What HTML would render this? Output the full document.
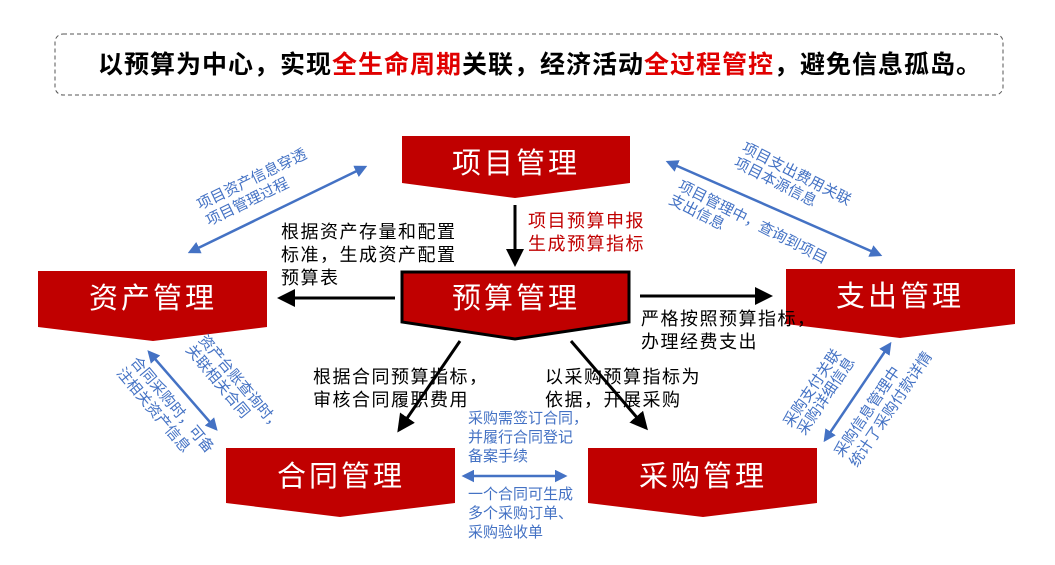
<!DOCTYPE html>
<html><head><meta charset="utf-8"><style>
html,body{margin:0;padding:0;background:#fff;}
svg{display:block;}
text{font-family:"Liberation Sans","Noto Sans CJK SC",sans-serif;}
</style></head><body>
<svg width="1055" height="565" viewBox="0 0 1055 565" xmlns="http://www.w3.org/2000/svg">
<defs>
<marker id="bk" markerWidth="6" markerHeight="6" refX="5" refY="3" orient="auto" markerUnits="strokeWidth"><path d="M0,0 L6,3 L0,6 z" fill="#000"/></marker>
<marker id="bl" markerWidth="5" markerHeight="5" refX="4" refY="2.5" orient="auto-start-reverse" markerUnits="strokeWidth"><path d="M0,0 L5,2.5 L0,5 z" fill="#4472c4"/></marker>
</defs>
<rect x="55" y="34" width="948" height="61" rx="8" fill="none" stroke="#555" stroke-dasharray="4,3" stroke-width="1"/>
<text x="540" y="73" font-size="25" font-weight="bold" text-anchor="middle" letter-spacing="1" fill="#000">以预算为中心，实现<tspan fill="#e00000">全生命周期</tspan>关联，经济活动<tspan fill="#e00000">全过程管控</tspan>，避免信息孤岛。</text>

<g fill="#c00000">
<polygon points="402,136 630,136 630,183 515,198 402,183"/>
<polygon points="38,271 267,271 267,327 153,341 38,327"/>
<polygon points="786,269 1015,269 1015,324 900,338 786,324"/>
<polygon points="226,448 455,448 455,503 340,517 226,503"/>
<polygon points="588,448 817,448 817,503 703,517 588,503"/>
</g>
<polygon points="402,272 629,272 629,322 515,339 402,322" fill="#c00000" stroke="#000" stroke-width="3"/>
<g fill="#fff" font-size="29" text-anchor="middle" letter-spacing="3">
<text x="516" y="173">项目管理</text>
<text x="153" y="308">资产管理</text>
<text x="516" y="308">预算管理</text>
<text x="900" y="306">支出管理</text>
<text x="341" y="486">合同管理</text>
<text x="703" y="486">采购管理</text>
</g>

<g stroke="#000" stroke-width="3" marker-end="url(#bk)">
<line x1="515" y1="205" x2="515" y2="264"/>
<line x1="395" y1="298" x2="280" y2="298"/>
<line x1="640" y1="296" x2="770" y2="296"/>
<line x1="460" y1="341" x2="399" y2="430"/>
<line x1="571" y1="341" x2="646" y2="428"/>
</g>

<g font-size="18" fill="#000" letter-spacing="1.5">
<text x="281" y="238">根据资产存量和配置</text>
<text x="281" y="261">标准，生成资产配置</text>
<text x="281" y="284">预算表</text>
<text x="641" y="325">严格按照预算指标，</text>
<text x="641" y="348">办理经费支出</text>
<text x="313" y="383">根据合同预算指标，</text>
<text x="313" y="406">审核合同履职费用</text>
<text x="545" y="383">以采购预算指标为</text>
<text x="545" y="406">依据，开展采购</text>
</g>
<g font-size="18" fill="#c00000" letter-spacing="1.5">
<text x="528" y="227">项目预算申报</text>
<text x="528" y="250">生成预算指标</text>
</g>

<g stroke="#4472c4" stroke-width="2.5" marker-start="url(#bl)" marker-end="url(#bl)">
<line x1="190" y1="252" x2="365" y2="167"/>
<line x1="668" y1="162" x2="880" y2="255"/>
<line x1="149" y1="352" x2="216" y2="429"/>
<line x1="464" y1="476" x2="565" y2="476"/>
<line x1="890" y1="344" x2="825" y2="440"/>
</g>

<g font-size="15" fill="#4472c4">
<text transform="translate(200,210) rotate(-26)">项目资产信息穿透</text>
<text transform="translate(209,226) rotate(-26)">项目管理过程</text>
<text transform="translate(741,151) rotate(27)">项目支出费用关联</text>
<text transform="translate(733,166) rotate(27)">项目本源信息</text>
<text transform="translate(677,189) rotate(27)">项目管理中，查询到项目</text>
<text transform="translate(668,203) rotate(27)">支出信息</text>
<text transform="translate(198,340) rotate(50)">资产台账查询时，</text>
<text transform="translate(185,350) rotate(50)">关联相关合同</text>
<text transform="translate(130,362) rotate(50)">合同采购时，可备</text>
<text transform="translate(116,373) rotate(50)">注相关资产信息</text>
<text transform="translate(791,428) rotate(-56)">采购支付关联</text>
<text transform="translate(805,436) rotate(-56)">采购详细信息</text>
<text transform="translate(842,458) rotate(-56)">采购信息管理中</text>
<text transform="translate(857,468) rotate(-56)">统计了采购付款详情</text>
<text x="468" y="423">采购需签订合同，</text>
<text x="468" y="442">并履行合同登记</text>
<text x="468" y="461">备案手续</text>
<text x="468" y="499">一个合同可生成</text>
<text x="468" y="518">多个采购订单、</text>
<text x="468" y="537">采购验收单</text>
</g>
</svg>
</body></html>
